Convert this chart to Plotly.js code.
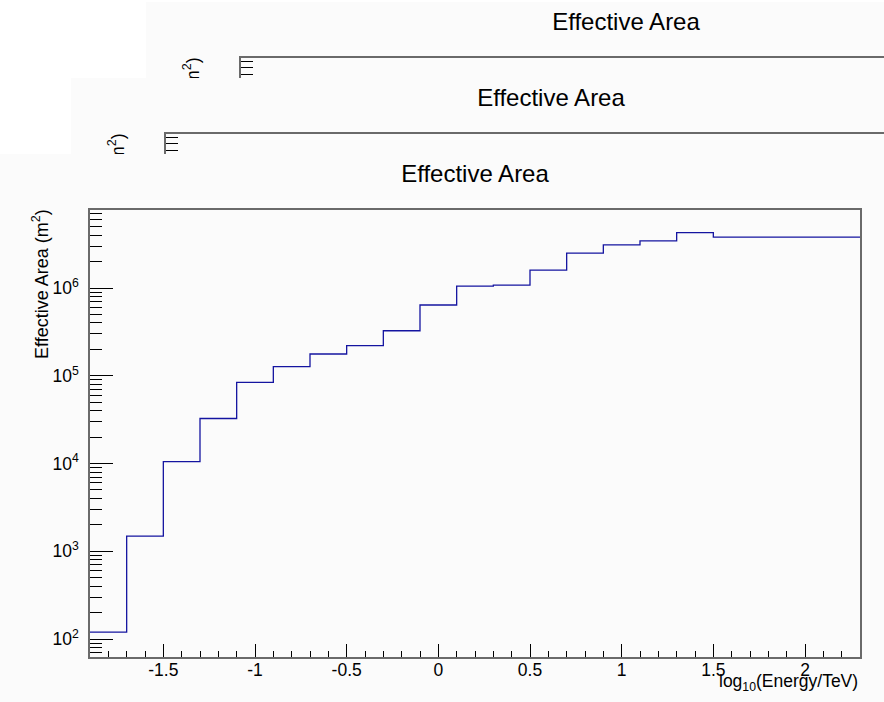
<!DOCTYPE html>
<html>
<head>
<meta charset="utf-8">
<script src="https://cdn.plot.ly/plotly-3.0.1.min.js"></script>
<style>
  html, body { margin: 0; padding: 0; background: #ffffff; }
  #stage { position: relative; width: 884px; height: 702px; overflow: hidden; background: #ffffff; }
  .pad { position: absolute; width: 900px; height: 560px; }
</style>
</head>
<body>
<div id="stage">
  <div id="pad1" class="pad" style="left:146px; top:2px;"></div>
  <div id="pad2" class="pad" style="left:71px; top:78px;"></div>
  <div id="pad3" class="pad" style="left:-5px; top:154px;"></div>
</div>
<script>
// ---- data ----
const binEdges = [-1.9, -1.7, -1.5, -1.3, -1.1, -0.9, -0.7, -0.5, -0.3, -0.1,
                  0.1, 0.3, 0.5, 0.7, 0.9, 1.1, 1.3, 1.5, 1.7, 1.9, 2.1, 2.3];
const effArea = [120, 1490, 10500, 32600, 84000, 127000, 177000, 221000, 326000, 640000,
                 1050000, 1080000, 1600000, 2500000, 3100000, 3440000, 4270000,
                 3800000, 3800000, 3800000, 3800000];
const xTickVals = [-1.5, -1, -0.5, 0, 0.5, 1, 1.5, 2];
const xTickText = ['-1.5', '-1', '-0.5', '0', '0.5', '1', '1.5', '2'];
const yTickVals = [100, 1000, 10000, 100000, 1000000];
const yTickText = ['10<sup>2</sup>', '10<sup>3</sup>', '10<sup>4</sup>', '10<sup>5</sup>', '10<sup>6</sup>'];
const chartTitle = 'Effective Area';
const xTitle = 'log<sub>10</sub>(Energy/TeV)';
const yTitle = 'Effective Area (m<sup>2</sup>)';

// step outline: one point per bin low edge, plus the last high edge
const stepX = binEdges.slice();
const stepY = effArea.concat([effArea[effArea.length - 1]]);

// minor tick positions for the log axis (2..9 x 10^n)
const yMinor = [];
for (let e = 1; e <= 6; e++) {
  for (let m = 2; m <= 9; m++) yMinor.push(m * Math.pow(10, e));
}

const FONT = 'Liberation Sans, Arial, Helvetica, sans-serif';
const PANEL = '#fbfbfb';
const FRAME = '#6a6a6a';

function makeLayout() {
  return {
    width: 900, height: 560,
    margin: { l: 95, r: 35, t: 56, b: 57 },
    paper_bgcolor: PANEL,
    plot_bgcolor: PANEL,
    showlegend: false,
    font: { family: FONT, size: 17.5, color: '#000' },
    title: {
      text: chartTitle,
      font: { family: FONT, size: 24, color: '#000' },
      xref: 'paper', x: 0.5, xanchor: 'center',
      yref: 'container', y: 1 - 19.5 / 560, yanchor: 'middle'
    },
    xaxis: {
      type: 'linear',
      range: [-1.9, 2.3],
      showgrid: false, zeroline: false,
      showline: true, linecolor: FRAME, linewidth: 1.6, mirror: true,
      ticks: 'inside', ticklen: 13, tickwidth: 1, tickcolor: '#000',
      tickmode: 'array', tickvals: xTickVals, ticktext: xTickText,
      ticklabelstandoff: -4,
      tickfont: { family: FONT, size: 17.5, color: '#000' },
      minor: { dtick: 0.1, tick0: 0, ticks: 'inside', ticklen: 6.5, tickwidth: 1, tickcolor: '#000', showgrid: false }
    },
    yaxis: {
      type: 'log',
      range: [1.795, 6.889],
      showgrid: false, zeroline: false,
      showline: true, linecolor: FRAME, linewidth: 1.6, mirror: true,
      ticks: 'inside', ticklen: 23, tickwidth: 1, tickcolor: '#000',
      tickmode: 'array', tickvals: yTickVals, ticktext: yTickText,
      ticklabelstandoff: 6,
      tickfont: { family: FONT, size: 17.5, color: '#000' },
      minor: { tickmode: 'array', tickvals: yMinor, ticks: 'inside', ticklen: 12, tickwidth: 1, tickcolor: '#000', showgrid: false }
    },
    annotations: [
      {
        text: yTitle, textangle: -90,
        xref: 'paper', yref: 'paper',
        x: -0.0649, y: 1, xanchor: 'center', yanchor: 'top', yshift: 3,
        showarrow: false,
        font: { family: FONT, size: 18, color: '#000' }
      },
      {
        text: xTitle,
        xref: 'paper', yref: 'paper',
        x: 1, y: 0, xanchor: 'right', yanchor: 'top', yshift: -12,
        showarrow: false,
        font: { family: FONT, size: 17.5, color: '#000' }
      }
    ]
  };
}

function makeData() {
  return [{
    type: 'scatter', mode: 'lines',
    x: stepX, y: stepY,
    line: { shape: 'hv', color: 'rgb(20,20,160)', width: 1.3 },
    hoverinfo: 'skip'
  }];
}

['pad1', 'pad2', 'pad3'].forEach(function (id) {
  Plotly.newPlot(id, makeData(), makeLayout(), { staticPlot: true, displayModeBar: false });
});
</script>
</body>
</html>
